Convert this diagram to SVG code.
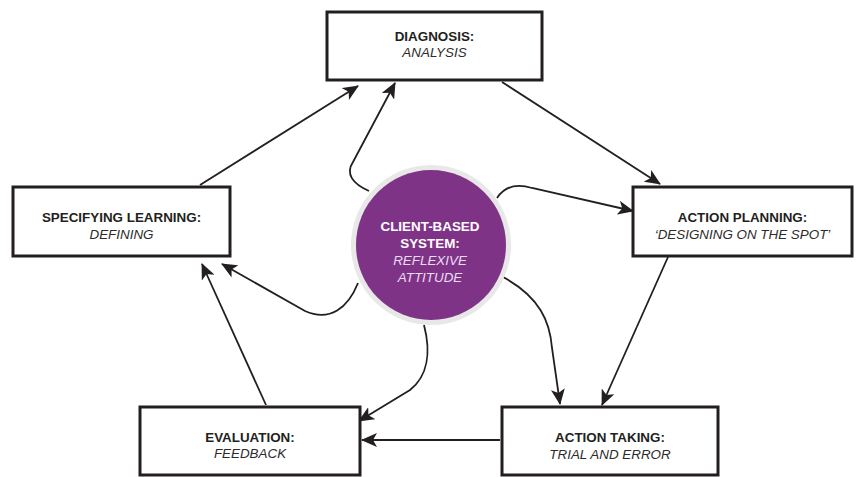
<svg xmlns="http://www.w3.org/2000/svg" width="858" height="477" viewBox="0 0 858 477">
<defs>
<marker id="ah" markerUnits="userSpaceOnUse" markerWidth="18" markerHeight="14" refX="15" refY="7" orient="auto">
<path d="M0,0 L16,7 L0,14 L4,7 Z" fill="#231f20"/>
</marker>
<style>
.box{fill:#fff;stroke:#231f20;stroke-width:3}
.t{font-family:"Liberation Sans",Arial,sans-serif;font-size:13.4px;text-anchor:middle;fill:#231f20}
.b{font-weight:bold}
.i{font-style:italic;fill:#2b2b2b}
.c{fill:none;stroke:#231f20;stroke-width:1.8;marker-end:url(#ah)}
.w{fill:#fff}
.wi{fill:#eadcf0}
</style>
</defs>
<rect width="858" height="477" fill="#fff"/>
<g id="connectors">
<path class="c" d="M200,185 L358,86"/>
<path class="c" d="M369,191 C353,184 345,174 353,162 L395,83"/>
<path class="c" d="M502,82 L660,184"/>
<path class="c" d="M497,198 C505,186 516,183 532,188 L633,211"/>
<path class="c" d="M668,257 L602,405"/>
<path class="c" d="M503,277 C540,297 550,322 552,348 L560,404"/>
<path class="c" d="M500,440 L362,440"/>
<path class="c" d="M424,325 C431,352 428,376 410,390 L359,421"/>
<path class="c" d="M266,405 L202,264"/>
<path class="c" d="M358,283 C348,308 330,322 305,311 L222,264"/>
</g>
<g id="diagnosis">
<rect class="box" x="327" y="12" width="215" height="68"/>
<text class="t b" x="434.5" y="41">DIAGNOSIS:</text>
<text class="t i" x="434.5" y="57">ANALYSIS</text>
</g>
<g id="specifying">
<rect class="box" x="13" y="187" width="217" height="69"/>
<text class="t b" x="121.5" y="222">SPECIFYING LEARNING:</text>
<text class="t i" x="121.5" y="239">DEFINING</text>
</g>
<g id="planning">
<rect class="box" x="633" y="187" width="219" height="69"/>
<text class="t b" x="742.5" y="222">ACTION PLANNING:</text>
<text class="t i" x="742.5" y="239">‘DESIGNING ON THE SPOT’</text>
</g>
<g id="evaluation">
<rect class="box" x="140" y="407" width="220" height="68"/>
<text class="t b" x="250" y="442">EVALUATION:</text>
<text class="t i" x="250" y="458">FEEDBACK</text>
</g>
<g id="taking">
<rect class="box" x="502" y="407" width="216" height="68"/>
<text class="t b" x="610" y="442">ACTION TAKING:</text>
<text class="t i" x="610" y="459">TRIAL AND ERROR</text>
</g>
<g id="center">
<circle cx="431" cy="245" r="80" fill="#e9e8e8"/>
<circle cx="431" cy="245" r="75" fill="#7f3386"/>
<text class="t b w" x="430" y="231">CLIENT-BASED</text>
<text class="t b w" x="430" y="248">SYSTEM:</text>
<text class="t i wi" x="430" y="265">REFLEXIVE</text>
<text class="t i wi" x="430" y="282">ATTITUDE</text>
</g>
</svg>
